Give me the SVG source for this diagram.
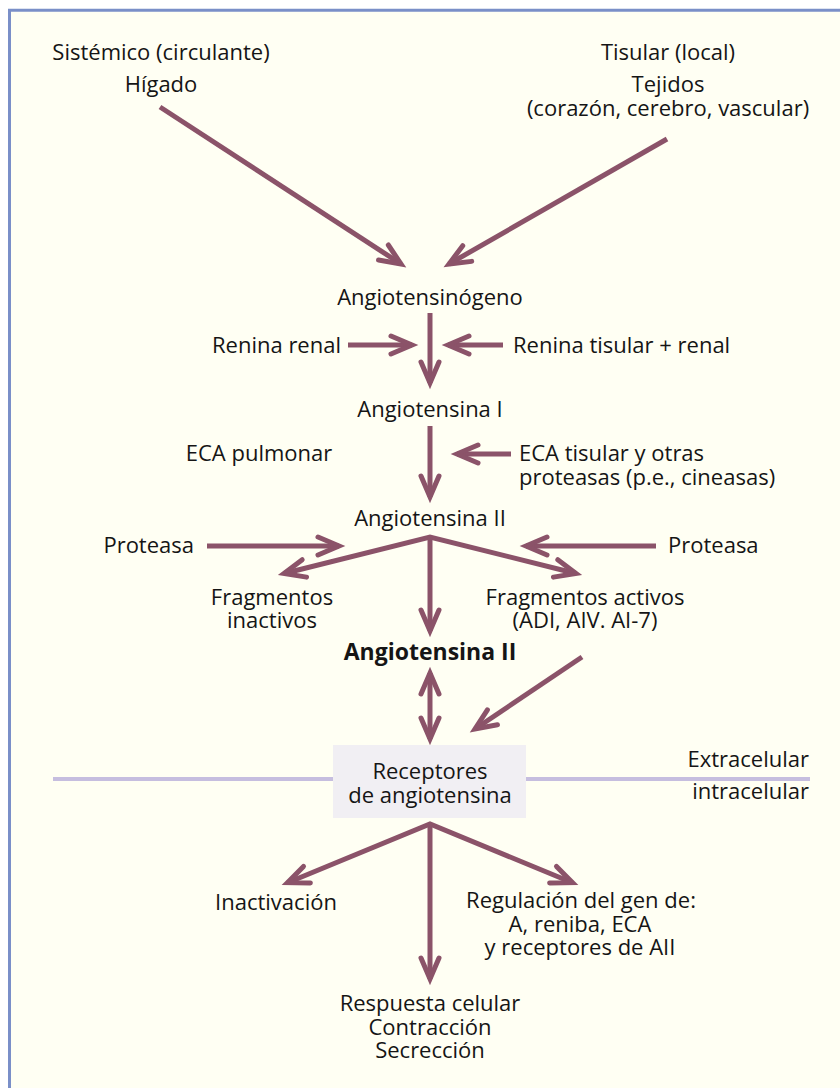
<svg xmlns="http://www.w3.org/2000/svg" width="840" height="1088" viewBox="0 0 840 1088">
<style>
text{font-family:"Open Sans","Liberation Sans",sans-serif;font-size:22px;fill:#151515;text-anchor:middle}
.l{text-anchor:start}
.r{text-anchor:end}
.b{font-weight:bold;font-size:23px}
.a{stroke:#8b5369;stroke-width:5;fill:none;stroke-linejoin:miter}
</style>
<defs>
<marker id="h" markerUnits="userSpaceOnUse" viewBox="-28 -16 40 32" markerWidth="40" markerHeight="32" refX="0" refY="0" orient="auto-start-reverse">
<path d="M-21,-9 L0,0 L-21,9" fill="none" stroke="#8b5369" stroke-width="5" stroke-linecap="round" stroke-linejoin="miter"/>
</marker>
</defs>
<rect x="0" y="0" width="840" height="1088" fill="#ffffff"/>
<rect x="9" y="9" width="831" height="1079" fill="#fffff3"/>
<line x1="8" y1="10.3" x2="840" y2="10.3" stroke="#7a8fc8" stroke-width="3"/>
<line x1="9.5" y1="9" x2="9.5" y2="1088" stroke="#7a8fc8" stroke-width="3"/>
<line x1="53" y1="779" x2="810" y2="779" stroke="#c6bedf" stroke-width="4"/>

<g id="connectors">
<line class="a" x1="160" y1="107" x2="401" y2="264" marker-end="url(#h)"/>
<line class="a" x1="667" y1="139" x2="449" y2="264" marker-end="url(#h)"/>
<line class="a" x1="430" y1="313" x2="430" y2="383" marker-end="url(#h)"/>
<line class="a" x1="348" y1="345" x2="412" y2="345" marker-end="url(#h)"/>
<line class="a" x1="503" y1="345" x2="448" y2="345" marker-end="url(#h)"/>
<line class="a" x1="430" y1="426" x2="430" y2="497" marker-end="url(#h)"/>
<line class="a" x1="511" y1="454" x2="457" y2="454" marker-end="url(#h)"/>
<line class="a" x1="207" y1="546" x2="339" y2="546" marker-end="url(#h)"/>
<line class="a" x1="656" y1="546" x2="526" y2="546" marker-end="url(#h)"/>
<path class="a" d="M284,573.5 L430,537 L576,573.5" marker-start="url(#h)" marker-end="url(#h)"/>
<line class="a" x1="430" y1="537" x2="430" y2="631" marker-end="url(#h)"/>
<line class="a" x1="430" y1="673" x2="430" y2="739" marker-start="url(#h)" marker-end="url(#h)"/>
<line class="a" x1="582" y1="657" x2="475" y2="729" marker-end="url(#h)"/>
<path class="a" d="M287.5,882.7 L430,824 L572.5,882.7" marker-start="url(#h)" marker-end="url(#h)"/>
<line class="a" x1="430" y1="824" x2="430" y2="979" marker-end="url(#h)"/>
</g>

<g id="sistemico"><text x="161" y="60">Sistémico (circulante)</text><text x="161" y="92">Hígado</text></g>
<g id="tisular"><text x="668" y="60">Tisular (local)</text><text x="668" y="92">Tejidos</text><text x="668" y="116">(corazón, cerebro, vascular)</text></g>
<g id="angiotensinogeno"><text x="430" y="305">Angiotensinógeno</text></g>
<g id="renina-renal"><text class="r" x="341" y="353">Renina renal</text></g>
<g id="renina-tisular"><text class="l" x="513" y="353">Renina tisular + renal</text></g>
<g id="angiotensina-i"><text x="430" y="417">Angiotensina I</text></g>
<g id="eca-pulmonar"><text x="259" y="461">ECA pulmonar</text></g>
<g id="eca-tisular"><text class="l" x="519" y="461">ECA tisular y otras</text><text class="l" x="519" y="485">proteasas (p.e., cineasas)</text></g>
<g id="angiotensina-ii"><text x="430" y="526">Angiotensina II</text></g>
<g id="proteasa-l"><text class="r" x="194" y="553">Proteasa</text></g>
<g id="proteasa-r"><text class="l" x="668" y="553">Proteasa</text></g>
<g id="frag-inactivos"><text x="272" y="605">Fragmentos</text><text x="272" y="628">inactivos</text></g>
<g id="frag-activos"><text x="585" y="605">Fragmentos activos</text><text x="585" y="628">(ADI, AIV. AI-7)</text></g>
<g id="angiotensina-ii-bold"><text class="b" x="430" y="660">Angiotensina II</text></g>
<g id="receptores"><rect x="333" y="745" width="193" height="73" fill="#f1eff3"/><text x="430" y="779">Receptores</text><text x="430" y="803">de angiotensina</text></g>
<g id="extracelular"><text class="r" x="809" y="767">Extracelular</text><text class="r" x="809" y="799">intracelular</text></g>
<g id="inactivacion"><text x="276" y="910">Inactivación</text></g>
<g id="regulacion"><text x="581" y="908">Regulación del gen de:</text><text x="580" y="932">A, reniba, ECA</text><text x="580" y="955">y receptores de AII</text></g>
<g id="respuesta"><text x="430" y="1011">Respuesta celular</text><text x="430" y="1035">Contracción</text><text x="430" y="1058">Secrección</text></g>
</svg>
